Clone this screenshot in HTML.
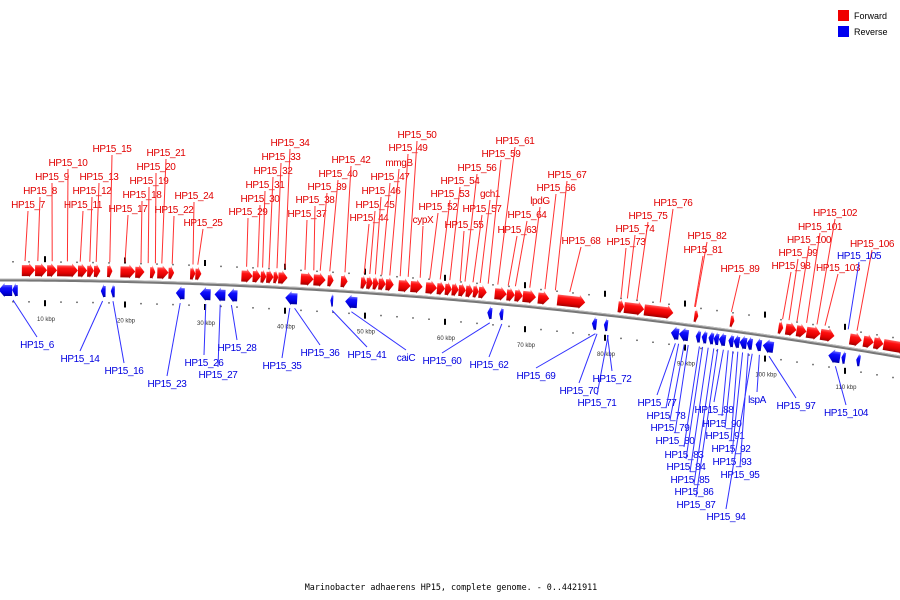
<!DOCTYPE html>
<html><head><meta charset="utf-8"><style>
html,body{margin:0;padding:0;background:#fff;}
svg{display:block;}
text{font-family:"Liberation Sans","DejaVu Sans",sans-serif;}
</style></head><body>
<svg id="chart" width="900" height="600" viewBox="0 0 900 600" xmlns="http://www.w3.org/2000/svg">
<defs>
<linearGradient id="gRed" x1="0" y1="0" x2="0" y2="1"><stop offset="0" stop-color="#ff9a9a"/><stop offset="0.35" stop-color="#ff1010"/><stop offset="0.7" stop-color="#e00000"/><stop offset="1" stop-color="#8a0000"/></linearGradient>
<linearGradient id="gBlue" x1="0" y1="0" x2="0" y2="1"><stop offset="0" stop-color="#9a9aff"/><stop offset="0.35" stop-color="#1010ff"/><stop offset="0.7" stop-color="#0000e0"/><stop offset="1" stop-color="#00008a"/></linearGradient>
</defs>
<g id="legend">
<rect x="838" y="10" width="11" height="11" fill="#f00000"/>
<text x="854" y="19" font-size="9" fill="#000">Forward</text>
<rect x="838" y="26" width="11" height="11" fill="#0000f0"/>
<text x="854" y="35" font-size="9" fill="#000">Reverse</text>
</g>
<text x="451" y="590" font-size="8.4" text-anchor="middle" fill="#000" style="font-family:'DejaVu Sans Mono','Liberation Mono',monospace">Marinobacter adhaerens HP15, complete genome. - 0..4421911</text>
</svg>
<script>
// genes (kbp)
const fwdStart=[7.1,8.75,10.25,11.5,14.1,15.25,16.1,17.75,19.4,21.25,23.1,24,25.4,28.1,28.75,34.5,35.9,36.9,37.6,38.5,39.1,41.9,43.5,45.25,46.9,49.4,50.1,50.9,51.6,52.5,54.1,55.6,57.5,58.9,59.9,60.75,61.6,62.5,63.4,64.1,66.1,67.6,68.6,69.6,71.5,73.9,81.5,82.25,84.75,91,95.5,101.5,102.4,103.75,105,106.75,110.4,112.1,113.4,114.6];
const fwdEnd=[8.75,10.25,11.5,14.1,15.25,16.1,16.9,18.4,21.25,22.4,23.75,25.4,26.1,28.75,29.5,35.9,36.9,37.6,38.5,39.1,40.25,43.5,45,46,47.75,50.1,50.9,51.6,52.5,53.5,55.6,57.1,58.9,59.9,60.75,61.6,62.5,63.4,64.1,65.1,67.6,68.6,69.6,71.25,72.9,77.4,82.25,84.75,88.4,91.5,96,102.1,103.75,105,106.75,108.5,111.9,113.4,114.6,117.5];
const revStart=[4.2,5.9,17,18.25,26.4,29.4,31.25,32.9,40.1,45.75,47.6,65.4,66.9,78.5,80,88.4,89.4,91.5,92.25,93.1,93.75,94.4,95.6,96.25,97,97.9,99,99.9,108.1,109.75,111.6];
const revEnd=[5.9,6.6,17.6,18.75,27.5,30.75,32.6,34.1,41.6,46.1,49.1,66,67.4,79.1,80.5,89.4,90.6,92.1,92.9,93.75,94.4,95.25,96.25,97,97.9,98.6,99.75,101.25,109.6,110.25,112.1];
// labels: name, target kbp
const fwdNames=["HP15_7","HP15_8","HP15_9","HP15_10","HP15_11","HP15_12","HP15_13","HP15_15","HP15_17","HP15_18","HP15_19","HP15_20","HP15_21","HP15_22","HP15_24","HP15_25","HP15_29","HP15_30","HP15_31","HP15_32","HP15_33","HP15_34","HP15_37","HP15_38","HP15_39","HP15_40","HP15_42","HP15_44","HP15_45","HP15_46","HP15_47","mmgB","HP15_49","HP15_50","cypX","HP15_52","HP15_53","HP15_54","HP15_55","HP15_56","HP15_57","gch1","HP15_59","HP15_61","HP15_63","HP15_64","lpdG","HP15_66","HP15_67","HP15_68","HP15_73","HP15_74","HP15_75","HP15_76","HP15_82","HP15_81","HP15_89","HP15_98","HP15_99","HP15_100","HP15_101","HP15_102","HP15_103","HP15_106"];
const fwdTarget=[7.5,9.1,10.9,12.8,14.4,15.6,16.4,18.1,20,22,22.9,23.8,24.6,25.9,28.5,29.1,35.2,36.6,37.2,38,39,40,42.5,43.6,44.4,45.6,47.5,49.9,50.6,51.3,52.1,53.1,54.4,55.4,56.9,58.1,59.4,60.6,61.9,62.5,63.5,64.4,65.4,66.6,67.9,68.8,70.6,72.5,73.8,75.6,82,82.8,84,86.9,91.3,91.2,95.8,102.2,103,104,105.2,106.5,107.5,111.5];
const revNames=["HP15_6","HP15_14","HP15_16","HP15_23","HP15_26","HP15_27","HP15_28","HP15_35","HP15_36","HP15_41","caiC","HP15_60","HP15_62","HP15_69","HP15_70","HP15_71","HP15_72","HP15_77","HP15_78","HP15_79","HP15_80","HP15_83","HP15_84","HP15_85","HP15_86","HP15_87","HP15_88","HP15_90","HP15_91","HP15_92","HP15_93","HP15_95","HP15_94","lspA","HP15_97","HP15_104","HP15_105"];
const revTarget=[6,17.2,18.5,26.9,30.1,31.9,33.3,40.6,41.2,45.9,48.3,65.6,67.1,78.8,79,80.4,80.3,88.8,89.2,89.9,90.4,91.8,92.2,92.9,93.6,94.1,94.8,95.4,96,96.6,97.2,97.9,98.4,99.3,100.5,108.8,110.4];
// label layout (pixel positions of label text centers)
const fwdLX=[28,40,52,68,83,92,99,112,128,142,149,156,166,174,194,203,248,260,265,273,281,290,307,315,327,338,351,369,375,381,390,399,408,417,423,438,450,460,464,477,482,490,501,515,517,527,540,556,567,581,626,635,648,673,707,703,740,791,798,809,820,835,838,872];
const fwdLY=[204,190,176,162,204,190,176,148,208,194,180,166,152,209,195,222,211,198,184,170,156,142,213,199,186,173,159,217,204,190,176,162,147,134,219,206,193,180,224,167,208,193,153,140,229,214,200,187,174,240,241,228,215,202,235,249,268,265,252,239,226,212,267,243];
const revLX=[37,80,124,167,204,218,237,282,320,367,406,442,489,536,579,597,612,657,666,670,675,684,686,690,694,696,714,722,725,731,732,740,726,757,796,846,859];
const revLY=[344,358,370,383,362,374,347,365,352,354,357,360,364,375,390,402,378,402,415,427,440,454,466,479,491,504,409,423,435,448,461,474,516,399,405,412,255];
const tickMin=0, tickMax=118, tickStep=2;

const svg=document.getElementById('chart');
const NS='http://www.w3.org/2000/svg';
const xS=k=>k*8-35;
const base=x=>280+9.5e-5*x*x;
const ang=x=>Math.atan(2*9.5e-5*x)*180/Math.PI;
function mk(tag,attrs,parent){const e=document.createElementNS(NS,tag);for(const a in attrs)e.setAttribute(a,attrs[a]);(parent||svg).appendChild(e);return e;}

const gBack=mk('g',{});


let d='';for(let x=-5;x<=905;x+=5){d+=(x===-5?'M':'L')+x+' '+base(x).toFixed(2);}
const bb=mk('path',{d:d,fill:'none',stroke:'#777',"stroke-width":3},gBack);


const bb2=mk('path',{d:d,fill:'none',stroke:'#bbb',"stroke-width":1,transform:'translate(0,-1)'},gBack);



// ticks
const gT=mk('g',{});


for(let k=tickMin;k<=tickMax;k+=tickStep){
  const x=xS(k);if(x<0||x>900)continue;const b=base(x);const major=(k%10===0);
  if(major){
    const t1=mk('rect',{x:x-1,y:b-24,width:2,height:6,fill:'#000'},gT);
    
    
    const t2=mk('rect',{x:x-1,y:b+20,width:2,height:6,fill:'#000'},gT);
    
    
    if(k>0){const tl=mk('text',{x:x+1,y:b+41,"font-size":6,"text-anchor":"middle",fill:'#333'},gT);tl.textContent=k+' kbp';
    
    }
  }else{
    const d1=mk('rect',{x:x-0.75,y:b-19,width:1.5,height:1.5,fill:'#555'},gT);
    
    
    const d2=mk('rect',{x:x-0.75,y:b+21,width:1.5,height:1.5,fill:'#555'},gT);
    
    
  }
}

function arrow(s,e,fwd,parent){
  const x1=xS(s),x2=xS(e),w=x2-x1,cx=(x1+x2)/2,b=base(cx);
  const h=14, y0=fwd?b-17:b+3;
  const hl=Math.min(6,w*0.6);
  let pts;
  if(fwd) pts=[[x1,y0+2],[x2-hl,y0+2],[x2-hl,y0],[x2,y0+h/2],[x2-hl,y0+h],[x2-hl,y0+h-1],[x1,y0+h-1]];
  else pts=[[x2,y0+2],[x1+hl,y0+2],[x1+hl,y0],[x1,y0+h/2],[x1+hl,y0+h],[x1+hl,y0+h-1],[x2,y0+h-1]];
  const p=mk('polygon',{points:pts.map(q=>q[0].toFixed(1)+','+q[1].toFixed(1)).join(' '),fill:fwd?'url(#gRed)':'url(#gBlue)',transform:'rotate('+ang(cx).toFixed(2)+' '+cx.toFixed(1)+' '+b.toFixed(1)+')'},parent);
  return p;
}
const gF=mk('g',{});


for(let i=0;i<fwdStart.length;i++){const p=arrow(fwdStart[i],fwdEnd[i],true,gF);
  
  }
const gR=mk('g',{});


for(let i=0;i<revStart.length;i++){const p=arrow(revStart[i],revEnd[i],false,gR);
  
  }

const gL=mk('g',{});


for(let i=0;i<fwdNames.length;i++){
  const tx=xS(fwdTarget[i]),b=base(tx);
  const ln=mk('line',{x1:fwdLX[i],y1:fwdLY[i]+7,x2:tx,y2:b-19,stroke:'#ff3030',"stroke-width":1},gL);
  
  
  const t=mk('text',{x:fwdLX[i],y:fwdLY[i]+4,"font-size":10,"text-anchor":"middle",fill:'#e00000',"letter-spacing":"-0.4"},gL);
  t.textContent=fwdNames[i];
  
  
}
for(let i=0;i<revNames.length;i++){
  const tx=xS(revTarget[i]),b=base(tx);
  const up=revLY[i]<b;
  const ln=mk('line',{x1:revLX[i],y1:up?revLY[i]+7:revLY[i]-7,x2:tx,y2:up?b-19:b+20,stroke:'#3030ff',"stroke-width":1},gL);
  
  
  const t=mk('text',{x:revLX[i],y:revLY[i]+4,"font-size":10,"text-anchor":"middle",fill:'#0000e0',"letter-spacing":"-0.4"},gL);
  t.textContent=revNames[i];
  
  
}
</script>
</body></html>
